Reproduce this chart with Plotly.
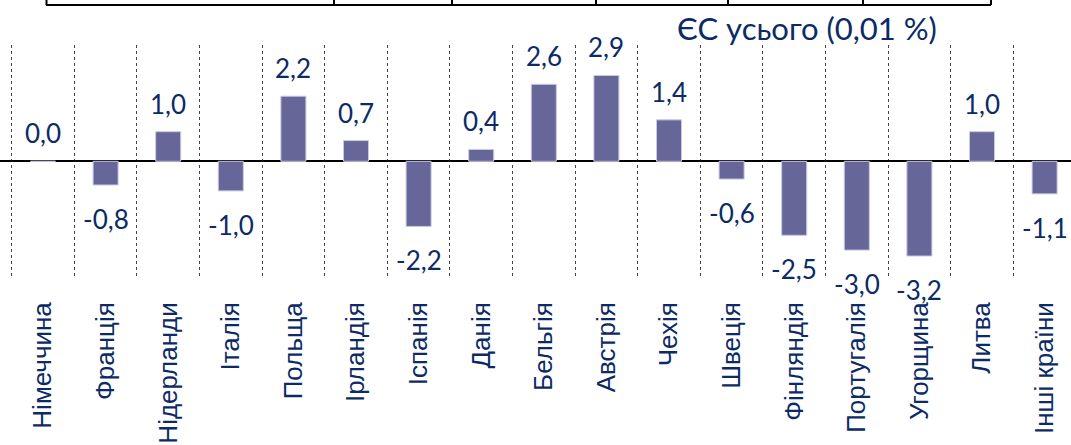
import plotly.graph_objects as go

countries = ["Німеччина", "Франція", "Нідерланди", "Італія", "Польща", "Ірландія",
             "Іспанія", "Данія", "Бельгія", "Австрія", "Чехія", "Швеція",
             "Фінляндія", "Португалія", "Угорщина", "Литва", "Інші країни"]
values = [0.0, -0.8, 1.0, -1.0, 2.2, 0.7, -2.2, 0.4, 2.6, 2.9, 1.4, -0.6,
          -2.5, -3.0, -3.2, 1.0, -1.1]
title_text = "ЄС усього (0,01 %)"

W, H = 1071, 445
plot_top, plot_bot = 45, 277
zero_px = 161.3
navy = "#0b2a66"

fig = go.Figure()
fig.add_trace(go.Bar(
    x=countries, y=values, width=0.4,
    marker=dict(color="#666699", line=dict(color="#c9c9e3", width=1)),
    hoverinfo="skip", showlegend=False,
))

annotations = []
for c, v in zip(countries, values):
    annotations.append(dict(
        x=c, y=v, xref="x", yref="y", showarrow=False,
        text=f"{v:.1f}".replace(".", ","),
        yshift=28 if v >= 0 else -34,
        font=dict(family="Lato", size=26, color=navy),
    ))


def py(p):
    return (plot_bot - p) / (plot_bot - plot_top)


annotations.append(dict(
    x=806.5 / W, y=py(28), xref="paper", yref="paper",
    showarrow=False, text=title_text, xanchor="center", yanchor="middle",
    font=dict(family="Lato", size=31, color=navy),
))

# top table fragment (decorative borders)
shapes = [dict(type="line", xref="paper", yref="paper", x0=46 / W, x1=991 / W,
               y0=py(5), y1=py(5), line=dict(color="black", width=2))]
for xv in [46.5, 334, 452, 596, 728, 863, 991]:
    shapes.append(dict(type="line", xref="paper", yref="paper", x0=xv / W, x1=xv / W,
                       y0=py(-2), y1=py(5), line=dict(color="black", width=2)))

step = 62.6
r0 = -0.5 - 11.7 / step
r1 = r0 + W / step
ppu = 29.6
fig.update_layout(
    width=W, height=H,
    margin=dict(l=0, r=0, t=plot_top, b=H - plot_bot),
    paper_bgcolor="white", plot_bgcolor="white",
    annotations=annotations, shapes=shapes,
    xaxis=dict(
        range=[r0, r1], tickson="boundaries", showgrid=True, griddash="dot",
        gridcolor="#444444", gridwidth=1, ticks="", tickangle=-90,
        ticklabelstandoff=19,
        tickfont=dict(family="Liberation Sans", size=26, color=navy),
        showline=False, zeroline=False,
    ),
    yaxis=dict(
        range=[-(plot_bot - zero_px) / ppu, (zero_px - plot_top) / ppu],
        showgrid=False, showticklabels=False, zeroline=True,
        zerolinecolor="black", zerolinewidth=1.5, showline=False,
    ),
    bargap=0.6,
)
fig.write_html(
    "out.html",
    config={"displayModeBar": False},
    post_script="document.body.style.margin='0';document.body.style.overflow='hidden';",
)
